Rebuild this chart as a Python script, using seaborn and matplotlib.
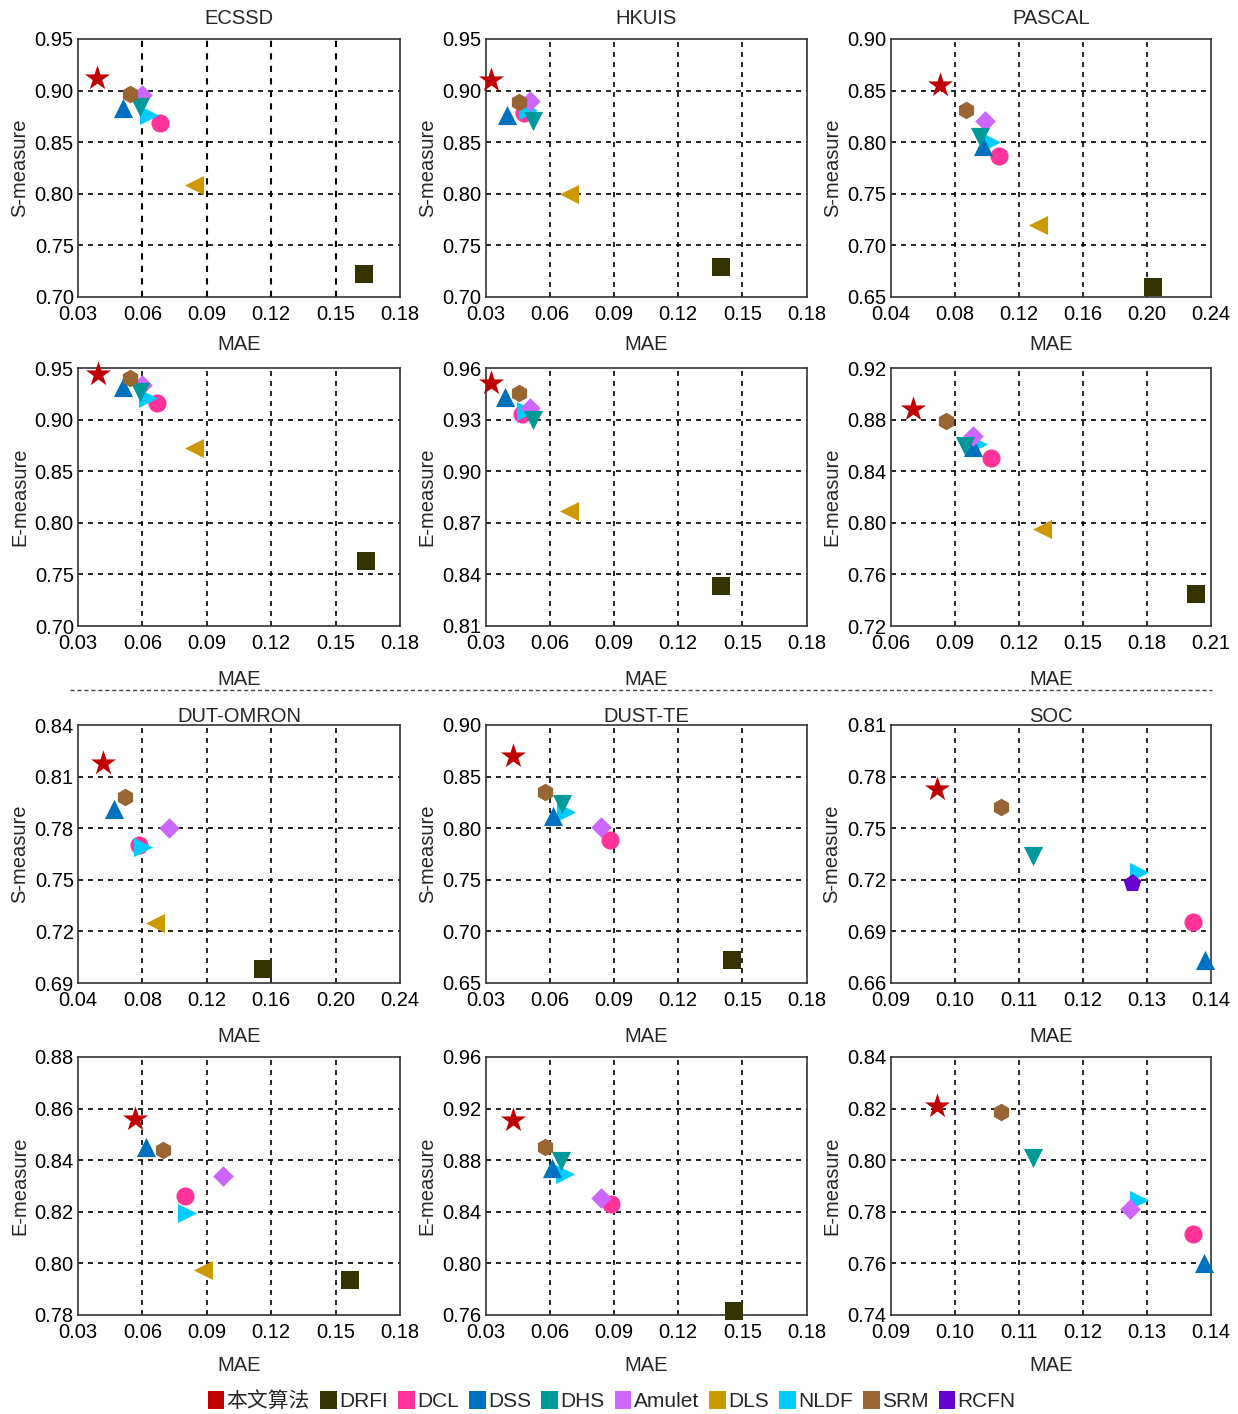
import matplotlib
matplotlib.use("Agg")
import matplotlib.pyplot as plt
import seaborn as sns
import pandas as pd
from matplotlib.patches import Patch
from matplotlib.lines import Line2D
from matplotlib.ticker import FormatStrFormatter

sns.set_style("white")
plt.rcParams['font.family'] = ['Liberation Sans', 'Noto Sans CJK SC', 'DejaVu Sans']

# method styles
method_names = ["本文算法", "DRFI", "DCL", "DSS", "DHS", "Amulet", "DLS", "NLDF", "SRM", "RCFN"]
method_colors = ["#c00000", "#333300", "#ff3399", "#0070c0", "#009999",
                 "#cc66ff", "#cc9900", "#00ccff", "#996633", "#6600cc"]
method_markers = ["*", "s", "o", "^", "v", "D", "<", ">", "h", "p"]
method_sizes = [360, 150, 170, 190, 190, 110, 190, 190, 160, 180]
draw_order = ["DRFI", "DLS", "DCL", "NLDF", "DSS", "Amulet", "DHS", "SRM", "RCFN", "本文算法"]

# panel data
m9 = ["本文算法", "DRFI", "DCL", "DSS", "DHS", "Amulet", "DLS", "NLDF", "SRM"]
ecssd_s_mae = [0.039, 0.163, 0.068, 0.051, 0.059, 0.060, 0.084, 0.063, 0.054]
ecssd_s_val = [0.912, 0.722, 0.869, 0.883, 0.884, 0.896, 0.809, 0.876, 0.897]
ecssd_e_mae = [0.0395, 0.164, 0.067, 0.051, 0.059, 0.060, 0.084, 0.0625, 0.054]
ecssd_e_val = [0.944, 0.763, 0.916, 0.932, 0.927, 0.934, 0.872, 0.921, 0.940]

hkuis_s_mae = [0.0325, 0.140, 0.048, 0.040, 0.052, 0.051, 0.069, 0.050, 0.0456]
hkuis_s_val = [0.910, 0.729, 0.878, 0.876, 0.871, 0.890, 0.800, 0.881, 0.889]
hkuis_e_mae = [0.0325, 0.140, 0.047, 0.039, 0.052, 0.051, 0.069, 0.049, 0.0456]
hkuis_e_val = [0.951, 0.833, 0.933, 0.943, 0.930, 0.937, 0.877, 0.935, 0.9455]

pascal_s_mae = [0.071, 0.204, 0.108, 0.098, 0.096, 0.099, 0.132, 0.103, 0.087]
pascal_s_val = [0.855, 0.660, 0.787, 0.796, 0.805, 0.821, 0.720, 0.800, 0.831]
pascal_e_mae = [0.0706, 0.203, 0.107, 0.0986, 0.0947, 0.0986, 0.131, 0.101, 0.0858]
pascal_e_val = [0.888, 0.745, 0.850, 0.859, 0.8595, 0.867, 0.795, 0.861, 0.879]

dut_methods = ["本文算法", "DRFI", "DCL", "DSS", "Amulet", "DLS", "NLDF", "SRM"]
dut_s_mae = [0.0558, 0.1547, 0.0781, 0.0621, 0.0968, 0.0881, 0.0801, 0.0692]
dut_s_val = [0.818, 0.698, 0.770, 0.791, 0.780, 0.725, 0.769, 0.798]
dut_e_mae = [0.0566, 0.1565, 0.0798, 0.0617, 0.0977, 0.0884, 0.0806, 0.0697]
dut_e_val = [0.856, 0.7935, 0.826, 0.845, 0.8337, 0.7974, 0.8197, 0.844]

dust_methods = ["本文算法", "DRFI", "DCL", "DSS", "DHS", "Amulet", "NLDF", "SRM"]
dust_s_mae = [0.0429, 0.145, 0.0881, 0.0616, 0.0658, 0.0842, 0.0674, 0.058]
dust_s_val = [0.870, 0.672, 0.789, 0.812, 0.8235, 0.8016, 0.8154, 0.835]
dust_e_mae = [0.0429, 0.1459, 0.0885, 0.0612, 0.0654, 0.0841, 0.0673, 0.058]
dust_e_val = [0.911, 0.763, 0.846, 0.874, 0.8795, 0.8506, 0.8692, 0.890]

soc_s_methods = ["本文算法", "DCL", "DSS", "DHS", "NLDF", "SRM", "RCFN"]
soc_s_mae = [0.0973, 0.1372, 0.1391, 0.1122, 0.1288, 0.1072, 0.1277]
soc_s_val = [0.7728, 0.6955, 0.6735, 0.7337, 0.7244, 0.7624, 0.7182]
soc_e_methods = ["本文算法", "DCL", "DSS", "DHS", "Amulet", "NLDF", "SRM"]
soc_e_mae = [0.0973, 0.1372, 0.1389, 0.1123, 0.1274, 0.1288, 0.1073]
soc_e_val = [0.821, 0.7714, 0.7601, 0.8008, 0.781, 0.7845, 0.8185]

# axis ranges: (xmin, xmax, xstep, ymin, ymax, ystep)
panels = [
    ("ECSSD", "S-measure", m9, ecssd_s_mae, ecssd_s_val, (0.03, 0.18, 0.03, 0.70, 0.95, 0.05), 0, 0),
    ("HKUIS", "S-measure", m9, hkuis_s_mae, hkuis_s_val, (0.03, 0.18, 0.03, 0.70, 0.95, 0.05), 0, 1),
    ("PASCAL", "S-measure", m9, pascal_s_mae, pascal_s_val, (0.04, 0.24, 0.04, 0.65, 0.90, 0.05), 0, 2),
    (None, "E-measure", m9, ecssd_e_mae, ecssd_e_val, (0.03, 0.18, 0.03, 0.70, 0.95, 0.05), 1, 0),
    (None, "E-measure", m9, hkuis_e_mae, hkuis_e_val, (0.03, 0.18, 0.03, 0.81, 0.96, 0.03), 1, 1),
    (None, "E-measure", m9, pascal_e_mae, pascal_e_val, (0.06, 0.21, 0.03, 0.72, 0.92, 0.04), 1, 2),
    ("DUT-OMRON", "S-measure", dut_methods, dut_s_mae, dut_s_val, (0.04, 0.24, 0.04, 0.69, 0.84, 0.03), 2, 0),
    ("DUST-TE", "S-measure", dust_methods, dust_s_mae, dust_s_val, (0.03, 0.18, 0.03, 0.65, 0.90, 0.05), 2, 1),
    ("SOC", "S-measure", soc_s_methods, soc_s_mae, soc_s_val, (0.09, 0.14, 0.01, 0.66, 0.81, 0.03), 2, 2),
    (None, "E-measure", dut_methods, dut_e_mae, dut_e_val, (0.03, 0.18, 0.03, 0.78, 0.88, 0.02), 3, 0),
    (None, "E-measure", dust_methods, dust_e_mae, dust_e_val, (0.03, 0.18, 0.03, 0.76, 0.96, 0.04), 3, 1),
    (None, "E-measure", soc_e_methods, soc_e_mae, soc_e_val, (0.09, 0.14, 0.01, 0.74, 0.84, 0.02), 3, 2),
]

W, H = 1238, 1414
fig = plt.figure(figsize=(W / 100, H / 100), dpi=100)

col_left = [78, 485.5, 890.5]
col_width = [322, 321, 320.5]
row_top = [39, 368, 725, 1057]
row_height = 258
fs = 14.5

style = {n: (c, m, s) for n, c, m, s in zip(method_names, method_colors, method_markers, method_sizes)}

for title, ylab, methods, maes, vals, rng, r, c in panels:
    ax = fig.add_axes([col_left[c] / W, 1 - (row_top[r] + row_height) / H,
                       col_width[c] / W, row_height / H])
    df = pd.DataFrame({"method": methods, "MAE": maes, "score": vals})
    for name in draw_order:
        sub = df[df["method"] == name]
        if sub.empty:
            continue
        color, marker, size = style[name]
        sns.scatterplot(data=sub, x="MAE", y="score", ax=ax, color=color,
                        marker=marker, s=size, linewidth=0, clip_on=False, zorder=5)
    xmin, xmax, xstep, ymin, ymax, ystep = rng
    nx = int(round((xmax - xmin) / xstep))
    ny = int(round((ymax - ymin) / ystep))
    ax.set_xlim(xmin, xmax)
    ax.set_ylim(ymin, ymax)
    ax.set_xticks([xmin + i * xstep for i in range(nx + 1)])
    ax.set_yticks([ymin + i * ystep for i in range(ny + 1)])
    ax.xaxis.set_major_formatter(FormatStrFormatter("%.2f"))
    ax.yaxis.set_major_formatter(FormatStrFormatter("%.2f"))
    lw = 1.5 if (r == 0 and c == 0) else 1.2
    for i in range(1, nx):
        ax.axvline(xmin + i * xstep, color="black", lw=lw, ls=(0, (3, 3)), zorder=1)
    for i in range(1, ny):
        ax.axhline(ymin + i * ystep, color="black", lw=1.2, ls=(0, (3, 3)), zorder=1)
    ax.tick_params(axis="both", length=0, labelsize=fs, colors="black")
    ax.tick_params(axis="x", pad=6)
    ax.tick_params(axis="y", pad=3)
    for sp in ax.spines.values():
        sp.set_color("#333333")
        sp.set_linewidth(1.2)
    xpad = {0: 8, 1: 12, 2: 12, 3: 10}[r]
    ax.set_xlabel("MAE", fontsize=fs, labelpad=xpad)
    ax.set_ylabel(ylab, fontsize=fs, labelpad=4)
    if title:
        ax.set_title(title, fontsize=fs, pad=11 if r == 0 else 2)
    if ax.get_legend():
        ax.get_legend().remove()

# dashed separator between the two halves
fig.add_artist(Line2D([70 / W, 1212 / W], [1 - 690 / H, 1 - 690 / H],
                      color="#444444", lw=1, ls=(0, (3, 2))))

handles = [Patch(facecolor=c, edgecolor="none") for c in method_colors]
fig.legend(handles, method_names, loc="center", bbox_to_anchor=(0.494, 1 - 1401 / H),
           ncol=10, frameon=False, fontsize=15, handlelength=0.8, handleheight=0.95,
           handletextpad=0.1, columnspacing=0.5, borderaxespad=0)

fig.savefig("out.png", dpi=100)
